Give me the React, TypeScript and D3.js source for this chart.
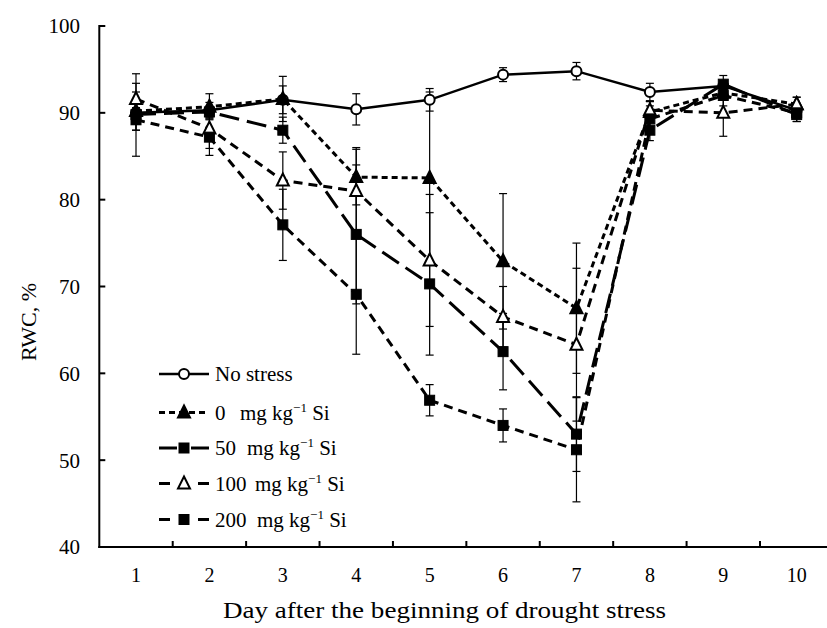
import React from "react";
import * as d3 from "d3";

const days = [1, 2, 3, 4, 5, 6, 7, 8, 9, 10];
const yTicks = [40, 50, 60, 70, 80, 90, 100];

const noStress = [90.0, 90.3, 91.5, 90.4, 91.5, 94.4, 94.8, 92.4, 93.1, 90.3];
const noStressErr = [0.6, 0.9, 1.6, 1.8, 1.3, 0.8, 1.0, 1.0, 0.6, 0.6];
const si0 = [90.2, 90.7, 91.6, 82.6, 82.5, 72.9, 67.5, 90.1, 92.3, 91.0];
const si0Err = [2.2, 1.5, 2.6, 3.2, 9.9, 7.8, 7.5, 1.2, 0.8, 0.8];
const si50 = [89.8, 90.1, 88.0, 76.0, 70.3, 62.5, 53.0, 88.0, 93.3, 89.8];
const si50Err = [1.8, 0.6, 1.5, 8.0, 8.2, 4.4, 4.3, 1.2, 1.0, 0.8];
const si100 = [91.6, 88.2, 82.2, 81.0, 73.0, 66.5, 63.3, 90.3, 90.0, 91.0];
const si100Err = [2.9, 2.3, 3.3, 5.0, 7.6, 3.5, 8.8, 1.0, 2.7, 0.8];
const si200 = [89.2, 87.2, 77.1, 69.1, 56.9, 54.0, 51.2, 89.3, 92.0, 90.0];
const si200Err = [4.2, 2.1, 4.1, 6.9, 1.8, 1.9, 6.0, 1.5, 1.2, 1.0];

const seriesNames = ["No stress", "0", "50", "100", "200"];

type Marker = "circle" | "triangle" | "square";
interface Series {
  name: string;
  values: number[];
  errs: number[];
  marker: Marker;
  filled: boolean;
  dash: string;
  legendDash: string;
  width: number;
  mgX: number;
}

const series: Series[] = [
  { name: seriesNames[0], values: noStress, errs: noStressErr, marker: "circle", filled: false, dash: "none", legendDash: "none", width: 2.5, mgX: 0 },
  { name: seriesNames[1], values: si0, errs: si0Err, marker: "triangle", filled: true, dash: "6,4", legendDash: "6,4", width: 3, mgX: 240 },
  { name: seriesNames[2], values: si50, errs: si50Err, marker: "square", filled: true, dash: "20,8", legendDash: "18,14", width: 3, mgX: 247 },
  { name: seriesNames[3], values: si100, errs: si100Err, marker: "triangle", filled: false, dash: "9,6", legendDash: "11,28", width: 3, mgX: 255 },
  { name: seriesNames[4], values: si200, errs: si200Err, marker: "square", filled: true, dash: "9,6", legendDash: "11,28", width: 3, mgX: 257 },
];

const W = 827;
const H = 628;
const left = 99.3;
const right = 833.4;
const top = 26;
const bottom = 547;

const FONT = "Liberation Serif, Tinos, Times New Roman, Times, Nimbus Roman, serif";

function MarkerShape({ m, x, y, filled }: { m: Marker; x: number; y: number; filled: boolean }) {
  const fill = filled ? "#000" : "#fff";
  if (m === "circle") {
    return <circle cx={x} cy={y} r={5} fill={fill} stroke="#000" strokeWidth={2} />;
  }
  if (m === "square") {
    return <rect x={x - 5} y={y - 5} width={10} height={10} fill={fill} stroke="#000" strokeWidth={1} />;
  }
  const s = 6;
  const p = `M${x},${y - s - 1} L${x + s},${y + s - 1} L${x - s},${y + s - 1} Z`;
  return <path d={p} fill={fill} stroke="#000" strokeWidth={2} strokeLinejoin="miter" />;
}

export default function App() {
  const x = d3.scaleBand<number>().domain(days).range([left, right]).padding(0);
  const cx = (d: number) => (x(d) as number) + x.bandwidth() / 2;
  const y = d3.scaleLinear().domain([40, 100]).range([bottom, top]);
  const line = d3
    .line<number>()
    .x((_, i) => cx(days[i]))
    .y((v) => y(v));

  const boundaries = days.slice(1).map((d) => x(d) as number);
  const legendY = [374, 412.5, 448, 483.5, 519.5];

  return (
    <svg width={W} height={H} style={{ position: "absolute", left: 0, top: 0, background: "#fff", fontFamily: FONT }}>
      <rect x={0} y={0} width={W} height={H} fill="#fff" />
      {/* error bars */}
      {series.map((s) => (
        <g key={"e" + s.name}>
          {s.values.map((v, i) => {
            const xx = cx(days[i]);
            const y1 = y(v + s.errs[i]);
            const y2 = y(v - s.errs[i]);
            return (
              <g key={i} stroke="#000" strokeWidth={1.2}>
                <line x1={xx} x2={xx} y1={y1} y2={y2} />
                <line x1={xx - 4} x2={xx + 4} y1={y1} y2={y1} />
                <line x1={xx - 4} x2={xx + 4} y1={y2} y2={y2} />
              </g>
            );
          })}
        </g>
      ))}
      {/* lines */}
      {series.map((s) => (
        <path
          key={"l" + s.name}
          d={line(s.values) || ""}
          fill="none"
          stroke="#000"
          strokeWidth={s.width}
          strokeDasharray={s.dash}
        />
      ))}
      {/* markers */}
      {series.map((s) => (
        <g key={"m" + s.name}>
          {s.values.map((v, i) => (
            <MarkerShape key={i} m={s.marker} x={cx(days[i])} y={y(v)} filled={s.filled} />
          ))}
        </g>
      ))}
      {/* axes */}
      <g stroke="#000" strokeWidth={2}>
        <line x1={left} x2={left} y1={top - 1} y2={bottom + 1} />
        <line x1={left - 1} x2={W} y1={bottom} y2={bottom} />
        {yTicks.slice(1).map((t) => (
          <line key={t} x1={left} x2={left + 6} y1={y(t)} y2={y(t)} />
        ))}
        {boundaries.map((b, i) => (
          <line key={i} x1={b} x2={b} y1={bottom} y2={bottom - 6} />
        ))}
      </g>
      {yTicks.map((t) => (
        <text key={t} x={80} y={y(t)} dy="0.35em" textAnchor="end" fontSize={21}>
          {t}
        </text>
      ))}
      {days.map((d) => (
        <text key={d} x={cx(d)} y={582} textAnchor="middle" fontSize={20}>
          {d}
        </text>
      ))}
      <text x={223} y={618} fontSize={24} textLength={443} lengthAdjust="spacingAndGlyphs">
        Day after the beginning of drought stress
      </text>
      <text transform={`translate(36, 322) rotate(-90)`} textAnchor="middle" fontSize={22}>
        RWC,  %
      </text>
      {/* legend */}
      {series.map((s, i) => {
        const ly = legendY[i];
        return (
          <g key={"lg" + s.name}>
            <line x1={159} x2={209} y1={ly} y2={ly} stroke="#000" strokeWidth={s.width} strokeDasharray={s.legendDash} />
            <MarkerShape m={s.marker} x={184} y={ly} filled={s.filled} />
            {i === 0 ? (
              <text x={215} y={ly} dy="0.35em" fontSize={21}>
                {s.name}
              </text>
            ) : (
              <g>
                <text x={215} y={ly} dy="0.35em" fontSize={21}>
                  {s.name}
                </text>
                <text x={s.mgX} y={ly} dy="0.35em" fontSize={21}>
                  mg kg
                  <tspan fontSize={13} dy={-8}>
                    −1
                  </tspan>
                  <tspan dy={8}> Si</tspan>
                </text>
              </g>
            )}
          </g>
        );
      })}
    </svg>
  );
}
